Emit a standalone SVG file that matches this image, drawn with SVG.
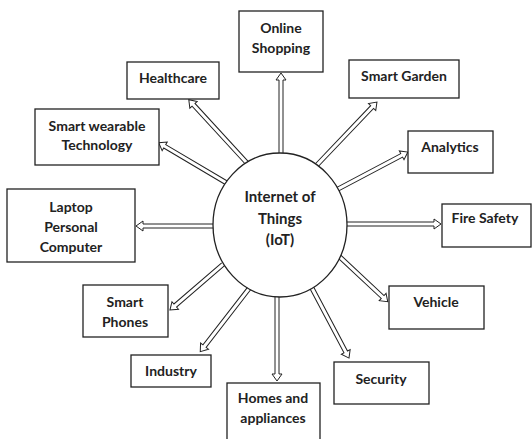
<svg xmlns="http://www.w3.org/2000/svg" width="532" height="439" viewBox="0 0 532 439">
<style>
.box{fill:#fff;stroke:#222;stroke-width:1.3}
.arr{fill:#fff;stroke:#222;stroke-width:1;stroke-linejoin:miter}
text{font-family:Lato,"Liberation Sans",sans-serif;font-weight:bold;font-size:14px;fill:#222;text-anchor:middle}
.c{font-size:15px}
</style>
<rect width="532" height="439" fill="#fff"/>
<g id="connectors">
<path class="arr" transform="translate(281,158) rotate(-90)" d="M0,-2 H78 V-5 L85,0 L78,5 V2 H0"/>
<path class="arr" transform="translate(249.7,165.9) rotate(-132.6)" d="M0,-2 H83 V-5 L90,0 L83,5 V2 H0"/>
<path class="arr" transform="translate(228.4,184) rotate(-149.4)" d="M0,-2 H74 V-5 L81,0 L74,5 V2 H0"/>
<path class="arr" transform="translate(217,226) rotate(180)" d="M0,-2 H74 V-5 L81,0 L74,5 V2 H0"/>
<path class="arr" transform="translate(314.2,167.9) rotate(-46.4)" d="M0,-2 H84 V-5 L91,0 L84,5 V2 H0"/>
<path class="arr" transform="translate(334.5,190.9) rotate(-27.9)" d="M0,-2 H76 V-5 L83,0 L76,5 V2 H0"/>
<path class="arr" transform="translate(343,224) rotate(0)" d="M0,-2 H91 V-5 L98,0 L91,5 V2 H0"/>
<path class="arr" transform="translate(338.1,255.3) rotate(43.1)" d="M0,-2 H61 V-5 L68,0 L61,5 V2 H0"/>
<path class="arr" transform="translate(311.1,286.5) rotate(62.1)" d="M0,-2 H74 V-5 L81,0 L74,5 V2 H0"/>
<path class="arr" transform="translate(277,293) rotate(90)" d="M0,-2 H81 V-5 L88,0 L81,5 V2 H0"/>
<path class="arr" transform="translate(223,264.4) rotate(139.3)" d="M0,-2 H63 V-5 L70,0 L63,5 V2 H0"/>
<path class="arr" transform="translate(250.4,286.8) rotate(127.7)" d="M0,-2 H75 V-5 L82,0 L75,5 V2 H0"/>
</g>
<g id="iot">
<ellipse cx="280" cy="225" rx="67" ry="72" fill="#fff" stroke="#222" stroke-width="1.3"/>
<text class="c" x="280" y="202">Internet of</text>
<text class="c" x="280" y="224">Things</text>
<text class="c" x="280" y="245">(IoT)</text>
</g>
<g id="online-shopping">
<rect class="box" x="239" y="11" width="84" height="61"/>
<text x="281" y="33">Online</text>
<text x="281" y="53">Shopping</text>
</g>
<g id="healthcare">
<rect class="box" x="127" y="62" width="92" height="37"/>
<text x="173" y="83">Healthcare</text>
</g>
<g id="smart-wearable">
<rect class="box" x="35" y="109" width="124" height="56"/>
<text x="97" y="131">Smart wearable</text>
<text x="97" y="150">Technology</text>
</g>
<g id="laptop">
<rect class="box" x="7" y="189" width="128" height="73"/>
<text x="71" y="212">Laptop</text>
<text x="71" y="232">Personal</text>
<text x="71" y="252">Computer</text>
</g>
<g id="smart-garden">
<rect class="box" x="349" y="60" width="110" height="38"/>
<text x="404" y="81">Smart Garden</text>
</g>
<g id="analytics">
<rect class="box" x="408" y="131" width="85" height="42"/>
<text x="450" y="152">Analytics</text>
</g>
<g id="fire-safety">
<rect class="box" x="442" y="204" width="89" height="43"/>
<text x="485" y="223">Fire Safety</text>
</g>
<g id="vehicle">
<rect class="box" x="389" y="286" width="95" height="43"/>
<text x="436" y="307">Vehicle</text>
</g>
<g id="security">
<rect class="box" x="334" y="362" width="95" height="42"/>
<text x="381" y="384">Security</text>
</g>
<g id="homes">
<rect class="box" x="227" y="383" width="93" height="58"/>
<text x="273" y="403">Homes and</text>
<text x="273" y="423">appliances</text>
</g>
<g id="industry">
<rect class="box" x="131" y="355" width="80" height="32"/>
<text x="171" y="376">Industry</text>
</g>
<g id="smart-phones">
<rect class="box" x="83" y="285" width="85" height="52"/>
<text x="125" y="307">Smart</text>
<text x="125" y="327">Phones</text>
</g>
</svg>
